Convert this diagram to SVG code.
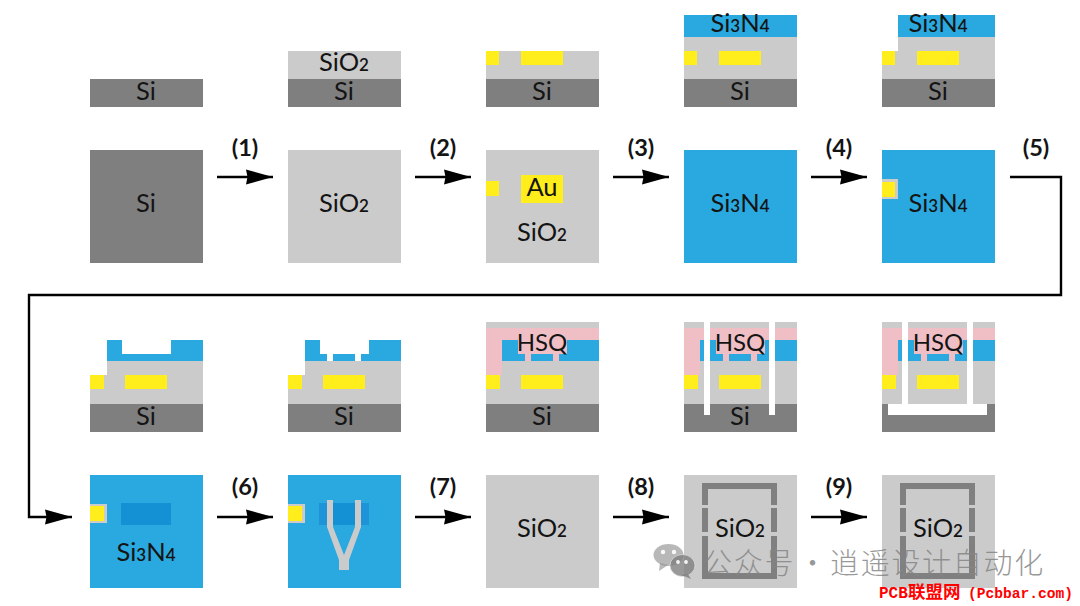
<svg xmlns="http://www.w3.org/2000/svg" width="1080" height="606" viewBox="0 0 1080 606">
<style>
  .si{fill:#7f7f7f}
  .ox{fill:#cbcbcb}
  .au{fill:#ffed1c}
  .sn{fill:#2aa9e0}
  .dk{fill:#1490d4}
  .dk2{fill:#1f93d8}
  .hsq{fill:#f0bfc6}
  .void{fill:#ffffff}
  .frame{fill:#808080}
  text{font-family:"Lato","Carlito","Liberation Sans",sans-serif;fill:#141414}
  .t{font-size:25.5px;text-anchor:middle}
  .t tspan{font-size:17px;font-weight:600}
  .h{font-size:24px;text-anchor:middle}
  .step{font-size:23.5px;font-weight:700;text-anchor:middle}
  .wire{fill:none;stroke:#000;stroke-width:2.4;stroke-linejoin:miter}
  .mark{font-family:"Noto Sans CJK SC","Noto Sans",sans-serif;font-size:29px;font-weight:300;fill:#858585;fill-opacity:.85;letter-spacing:1.7px}
  .brand{font-family:"Liberation Mono","Noto Sans CJK SC",monospace;font-weight:700;fill:#ff0000}
</style>
<defs>
  <marker id="head" markerUnits="userSpaceOnUse" markerWidth="28" markerHeight="16" refX="27" refY="8" orient="auto">
    <path d="M0 0.5L27 8L0 15.5L1.5 8Z" fill="#000"/>
  </marker>
</defs>

<!-- first row: cross-sections -->
<g id="s1-section">
  <rect class="si" x="90" y="79" width="113" height="28"/>
  <text class="t" x="146" y="100">Si</text>
</g>
<g id="s2-section">
  <rect class="ox" x="288" y="51" width="113" height="28"/>
  <rect class="si" x="288" y="79" width="113" height="28"/>
  <text class="t" x="344" y="71">SiO<tspan>2</tspan></text>
  <text class="t" x="344" y="100">Si</text>
</g>
<g id="s3-section">
  <rect class="ox" x="486" y="51" width="113" height="28"/>
  <rect class="si" x="486" y="79" width="113" height="28"/>
  <rect class="au" x="486" y="51" width="13" height="14"/>
  <rect class="au" x="521" y="51" width="42" height="14"/>
  <text class="t" x="542" y="100">Si</text>
</g>
<g id="s4-section">
  <rect class="sn" x="684" y="15" width="113" height="22"/>
  <rect class="ox" x="684" y="37" width="113" height="42"/>
  <rect class="si" x="684" y="79" width="113" height="28"/>
  <rect class="au" x="684" y="51" width="13" height="14"/>
  <rect class="au" x="719" y="51" width="42" height="14"/>
  <text class="t" x="740" y="32">Si<tspan>3</tspan>N<tspan>4</tspan></text>
  <text class="t" x="740" y="100">Si</text>
</g>
<g id="s5-section">
  <rect class="sn" x="898" y="15" width="97" height="22"/>
  <path class="ox" d="M898 37H995V79H882V51H898Z"/>
  <rect class="si" x="882" y="79" width="113" height="28"/>
  <rect class="au" x="882" y="51" width="13" height="14"/>
  <rect class="au" x="917" y="51" width="42" height="14"/>
  <text class="t" x="938" y="32">Si<tspan>3</tspan>N<tspan>4</tspan></text>
  <text class="t" x="938" y="100">Si</text>
</g>

<!-- first row: top views -->
<g id="s1-top">
  <rect class="si" x="90" y="150" width="113" height="113"/>
  <text class="t" x="146" y="212">Si</text>
</g>
<g id="s2-top">
  <rect class="ox" x="288" y="150" width="113" height="113"/>
  <text class="t" x="344" y="212">SiO<tspan>2</tspan></text>
</g>
<g id="s3-top">
  <rect class="ox" x="486" y="150" width="113" height="113"/>
  <rect class="au" x="486" y="181" width="13" height="15"/>
  <rect class="au" x="521" y="175" width="42" height="28"/>
  <text class="t" x="542" y="196">Au</text>
  <text class="t" x="542" y="241">SiO<tspan>2</tspan></text>
</g>
<g id="s4-top">
  <rect class="sn" x="684" y="150" width="113" height="113"/>
  <text class="t" x="740" y="212">Si<tspan>3</tspan>N<tspan>4</tspan></text>
</g>
<g id="s5-top">
  <rect class="sn" x="882" y="150" width="113" height="113"/>
  <rect class="ox" x="882" y="179" width="16" height="20"/>
  <rect class="au" x="882" y="182" width="13" height="15"/>
  <text class="t" x="938" y="212">Si<tspan>3</tspan>N<tspan>4</tspan></text>
</g>

<!-- second row: cross-sections -->
<g id="s6-section">
  <path class="sn" d="M107 340H122V354H171V340H203V361H107Z"/>
  <path class="ox" d="M107 361H203V404H90V375H107Z"/>
  <rect class="si" x="90" y="404" width="113" height="28"/>
  <rect class="au" x="90" y="375" width="14" height="14"/>
  <rect class="au" x="125" y="375" width="42" height="14"/>
  <text class="t" x="146" y="425">Si</text>
</g>
<g id="s7-section">
  <path class="sn" d="M305 340H320V354H327V361H305Z"/>
  <rect class="sn" x="333" y="354" width="22" height="7"/>
  <path class="sn" d="M361 361V354H369V340H401V361Z"/>
  <path class="ox" d="M305 361H401V404H288V375H305Z"/>
  <rect class="si" x="288" y="404" width="113" height="28"/>
  <rect class="au" x="288" y="375" width="14" height="14"/>
  <rect class="au" x="323" y="375" width="42" height="14"/>
  <text class="t" x="344" y="425">Si</text>
</g>
<g id="s8-section">
  <rect class="ox" x="486" y="322" width="113" height="6"/>
  <rect class="hsq" x="486" y="328" width="113" height="12"/>
  <path class="ox" d="M502 361H599V404H486V375H502Z"/>
  <rect class="hsq" x="486" y="340" width="16" height="35"/>
  <path class="sn" d="M502 340H518V354H525V361H502Z"/>
  <rect class="hsq" x="518" y="340" width="49" height="14"/>
  <rect class="hsq" x="525" y="354" width="6" height="7"/>
  <rect class="sn" x="531" y="354" width="22" height="7"/>
  <rect class="hsq" x="553" y="354" width="6" height="7"/>
  <path class="sn" d="M559 361V354H567V340H599V361Z"/>
  <rect class="si" x="486" y="404" width="113" height="28"/>
  <rect class="au" x="486" y="375" width="14" height="14"/>
  <rect class="au" x="521" y="375" width="42" height="14"/>
  <text class="h" x="542" y="351">HSQ</text>
  <text class="t" x="542" y="425">Si</text>
</g>
<g id="s9-section">
  <rect class="ox" x="684" y="322" width="113" height="6"/>
  <rect class="hsq" x="684" y="328" width="113" height="12"/>
  <path class="ox" d="M700 361H797V404H684V375H700Z"/>
  <rect class="hsq" x="684" y="340" width="16" height="35"/>
  <path class="sn" d="M700 340H716V354H723V361H700Z"/>
  <rect class="hsq" x="716" y="340" width="49" height="14"/>
  <rect class="hsq" x="723" y="354" width="6" height="7"/>
  <rect class="sn" x="729" y="354" width="22" height="7"/>
  <rect class="hsq" x="751" y="354" width="6" height="7"/>
  <path class="sn" d="M757 361V354H765V340H797V361Z"/>
  <rect class="si" x="684" y="404" width="113" height="28"/>
  <rect class="au" x="684" y="375" width="14" height="14"/>
  <rect class="au" x="719" y="375" width="42" height="14"/>
  <rect class="void" x="704" y="322" width="6" height="93"/>
  <rect class="void" x="769" y="322" width="6" height="93"/>
  <text class="h" x="740" y="351">HSQ</text>
  <text class="t" x="740" y="425">Si</text>
</g>
<g id="s10-section">
  <rect class="ox" x="882" y="322" width="113" height="6"/>
  <rect class="hsq" x="882" y="328" width="113" height="12"/>
  <path class="ox" d="M898 361H995V404H882V375H898Z"/>
  <rect class="hsq" x="882" y="340" width="16" height="35"/>
  <path class="sn" d="M898 340H914V354H921V361H898Z"/>
  <rect class="hsq" x="914" y="340" width="49" height="14"/>
  <rect class="hsq" x="921" y="354" width="6" height="7"/>
  <rect class="sn" x="927" y="354" width="22" height="7"/>
  <rect class="hsq" x="949" y="354" width="6" height="7"/>
  <path class="sn" d="M955 361V354H963V340H995V361Z"/>
  <rect class="si" x="882" y="404" width="113" height="28"/>
  <rect class="au" x="882" y="375" width="14" height="14"/>
  <rect class="au" x="917" y="375" width="42" height="14"/>
  <rect class="void" x="902" y="322" width="6" height="93"/>
  <rect class="void" x="967" y="322" width="6" height="93"/>
  <rect class="void" x="888" y="404" width="99" height="11"/>
  <text class="h" x="938" y="351">HSQ</text>
</g>

<!-- second row: top views -->
<g id="s6-top">
  <rect class="sn" x="90" y="475" width="113" height="113"/>
  <rect class="dk" x="121" y="503" width="50" height="22"/>
  <rect class="ox" x="90" y="504" width="17" height="19"/>
  <rect class="au" x="90" y="506" width="14" height="15"/>
  <text class="t" x="146" y="561">Si<tspan>3</tspan>N<tspan>4</tspan></text>
</g>
<g id="s7-top">
  <rect class="sn" x="288" y="475" width="113" height="113"/>
  <rect class="dk2" x="319" y="503" width="50" height="22"/>
  <rect class="dk" x="333" y="503" width="22" height="22"/>
  <rect class="ox" x="288" y="504" width="17" height="19"/>
  <rect class="au" x="288" y="506" width="14" height="15"/>
  <path class="ox" d="M327 500H333V527L344 555L355 527V500H361V527L349 560V570H339V560L327 527Z"/>
</g>
<g id="s8-top">
  <rect class="ox" x="486" y="475" width="113" height="113"/>
  <text class="t" x="542" y="537">SiO<tspan>2</tspan></text>
</g>
<g id="s9-top">
  <rect class="ox" x="684" y="475" width="113" height="113"/>
  <path class="frame" d="M702 483H777V505H771V489H708V505H702Z"/>
  <rect class="frame" x="702" y="508" width="6" height="24"/>
  <rect class="frame" x="771" y="508" width="6" height="24"/>
  <path class="frame" d="M702 536H708V573H771V536H777V579H702Z"/>
  <text class="t" x="740" y="537">SiO<tspan>2</tspan></text>
</g>
<g id="s10-top">
  <rect class="ox" x="882" y="475" width="113" height="113"/>
  <path class="frame" d="M900 483H975V505H969V489H906V505H900Z"/>
  <rect class="frame" x="900" y="508" width="6" height="24"/>
  <rect class="frame" x="969" y="508" width="6" height="24"/>
  <path class="frame" d="M900 536H906V573H969V536H975V579H900Z"/>
  <text class="t" x="938" y="537">SiO<tspan>2</tspan></text>
</g>

<!-- process arrows -->
<g id="connectors">
  <line class="wire" x1="217" y1="177" x2="273" y2="177" marker-end="url(#head)"/>
  <line class="wire" x1="415" y1="177" x2="471" y2="177" marker-end="url(#head)"/>
  <line class="wire" x1="613" y1="177" x2="669" y2="177" marker-end="url(#head)"/>
  <line class="wire" x1="811" y1="177" x2="867" y2="177" marker-end="url(#head)"/>
  <path class="wire" d="M1010 177H1061V295H29V517H72" marker-end="url(#head)"/>
  <line class="wire" x1="217" y1="517" x2="273" y2="517" marker-end="url(#head)"/>
  <line class="wire" x1="415" y1="517" x2="471" y2="517" marker-end="url(#head)"/>
  <line class="wire" x1="613" y1="517" x2="669" y2="517" marker-end="url(#head)"/>
  <line class="wire" x1="811" y1="517" x2="867" y2="517" marker-end="url(#head)"/>
</g>

<!-- step numbers -->
<g id="steps">
  <text class="step" x="245" y="156">(1)</text>
  <text class="step" x="443" y="156">(2)</text>
  <text class="step" x="641" y="156">(3)</text>
  <text class="step" x="839" y="156">(4)</text>
  <text class="step" x="1036" y="156">(5)</text>
  <text class="step" x="245" y="495">(6)</text>
  <text class="step" x="443" y="495">(7)</text>
  <text class="step" x="641" y="495">(8)</text>
  <text class="step" x="839" y="495">(9)</text>
</g>

<!-- account mark and site credit -->
<g id="account-mark">
  <g fill="#8c8c8c" fill-opacity=".62">
    <ellipse cx="668.5" cy="555" rx="15" ry="11"/>
    <path d="M660 563L659 571L668 565Z"/>
  </g>
  <g fill="#808080" fill-opacity=".8" stroke="#eeeeee" stroke-opacity=".6">
    <ellipse cx="682.5" cy="565.5" rx="12.5" ry="11"/>
  </g>
  <path d="M688 574L691 579L681 575Z" fill="#808080" fill-opacity=".8"/>
  <g fill="#ffffff" fill-opacity=".9">
    <circle cx="663" cy="552" r="2.2"/>
    <circle cx="674" cy="552" r="2.2"/>
    <circle cx="678" cy="562" r="1.9"/>
    <circle cx="686" cy="562" r="1.9"/>
  </g>
  <text class="mark" y="574"><tspan x="703">公众号</tspan><tspan x="798">·</tspan><tspan x="830">逍遥设计自动化</tspan></text>
</g>
<text id="site-credit" class="brand" y="598"><tspan x="879" font-size="16">PCB</tspan><tspan x="908" font-size="17.5">联盟网</tspan><tspan x="968" font-size="14.6">(Pcbbar.com)</tspan></text>
</svg>
